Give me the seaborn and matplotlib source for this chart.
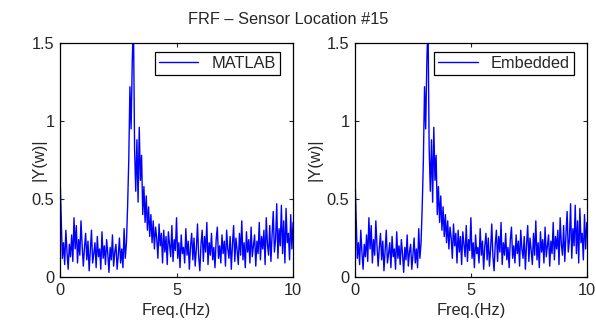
import numpy as np
import pandas as pd
import seaborn as sns
import matplotlib
matplotlib.use("Agg")
import matplotlib.pyplot as plt

# magnitude of FRF, 0.05 Hz steps from 0 to 10 Hz
matlab_mag = [
    0.65, 0.38, 0.12, 0.22, 0.08, 0.30, 0.16, 0.05, 0.21, 0.13,
    0.27, 0.10, 0.38, 0.18, 0.33, 0.09, 0.24, 0.14, 0.36, 0.20,
    0.07, 0.19, 0.28, 0.11, 0.23, 0.04, 0.17, 0.30, 0.09, 0.15,
    0.22, 0.06, 0.26, 0.13, 0.18, 0.05, 0.29, 0.12, 0.20, 0.08,
    0.24, 0.15, 0.03, 0.19, 0.11, 0.27, 0.07, 0.16, 0.21, 0.05,
    0.14, 0.25, 0.09, 0.18, 0.06, 0.31, 0.12, 0.22, 0.45, 0.75,
    1.22, 0.95, 1.38, 1.65, 0.82, 0.55, 0.88, 0.48, 0.96, 0.62,
    0.78, 0.40, 0.58, 0.35, 0.52, 0.30, 0.45, 0.26, 0.40, 0.22,
    0.36, 0.18, 0.32, 0.25, 0.12, 0.34, 0.20, 0.28, 0.09, 0.30,
    0.16, 0.26, 0.08, 0.29, 0.21, 0.13, 0.33, 0.10, 0.24, 0.17,
    0.38, 0.12, 0.22, 0.06, 0.27, 0.15, 0.19, 0.09, 0.31, 0.14,
    0.23, 0.05, 0.20, 0.28, 0.11, 0.25, 0.07, 0.18, 0.34, 0.13,
    0.04, 0.21, 0.30, 0.10, 0.26, 0.16, 0.35, 0.08, 0.22, 0.14,
    0.28, 0.11, 0.19, 0.06, 0.24, 0.32, 0.12, 0.20, 0.09, 0.27,
    0.15, 0.23, 0.07, 0.30, 0.18, 0.12, 0.26, 0.05, 0.21, 0.33,
    0.10, 0.25, 0.17, 0.08, 0.28, 0.14, 0.36, 0.11, 0.22, 0.06,
    0.29, 0.16, 0.24, 0.09, 0.32, 0.13, 0.20, 0.27, 0.07, 0.23,
    0.15, 0.35, 0.11, 0.26, 0.18, 0.30, 0.08, 0.38, 0.21, 0.14,
    0.33, 0.10, 0.27, 0.42, 0.16, 0.24, 0.47, 0.12, 0.31, 0.20,
    0.46, 0.15, 0.36, 0.09, 0.44, 0.22, 0.28, 0.11, 0.40, 0.18,
    0.35,
]
# the embedded result is the same spectrum
embedded_mag = list(matlab_mag)
freq = np.linspace(0, 10, len(matlab_mag))

series = {"MATLAB": matlab_mag, "Embedded": embedded_mag}

sns.set_style("ticks")
plt.rcParams["font.family"] = ["Liberation Sans", "DejaVu Sans"]
fs = 11.8

fig = plt.figure(figsize=(5.96, 3.24), dpi=100)
axes = [fig.add_axes([0.1007, 0.145, 0.391, 0.722]),
        fig.add_axes([0.5956, 0.145, 0.389, 0.722])]
ylabel_x = [-0.056, -0.142]

for ax, (name, mag), lx in zip(axes, series.items(), ylabel_x):
    df = pd.DataFrame({"freq": freq, "mag": mag})
    sns.lineplot(data=df, x="freq", y="mag", ax=ax, color="blue", lw=1.0, label=name)
    ax.set_xlim(0, 10)
    ax.set_ylim(0, 1.5)
    ax.set_xticks([0, 5, 10])
    ax.set_xticklabels(["0", "5", "10"])
    ax.set_yticks([0, 0.5, 1, 1.5])
    ax.set_yticklabels(["0", "0.5", "1", "1.5"])
    ax.tick_params(direction="in", top=True, right=True, length=3, labelsize=fs, pad=4)
    for s in ax.spines.values():
        s.set_color("black")
        s.set_linewidth(0.9)
    ax.set_xlabel("Freq.(Hz)", fontsize=fs)
    ax.xaxis.set_label_coords(0.5, -0.11)
    ax.set_ylabel("|Y(w)|", fontsize=fs)
    ax.yaxis.set_label_coords(lx, 0.5)
    leg = ax.legend(loc="upper right", bbox_to_anchor=(0.944, 0.962), borderaxespad=0,
                    fancybox=False, edgecolor="black", framealpha=1,
                    handlelength=2.4, handletextpad=0.8, fontsize=fs, borderpad=0.25)
    leg.get_frame().set_linewidth(0.9)

fig.text(0.483, 0.941, "FRF \u2013 Sensor Location #15", ha="center", va="center", fontsize=fs)

fig.savefig("out.png", dpi=100)
